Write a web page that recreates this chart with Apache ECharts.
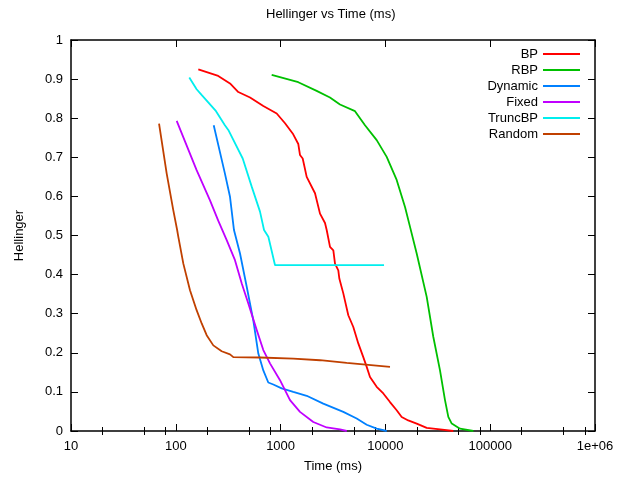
<!DOCTYPE html>
<html>
<head>
<meta charset="utf-8">
<title>Hellinger vs Time (ms)</title>
<script src="https://cdn.jsdelivr.net/npm/echarts@6.0.0/dist/echarts.min.js"></script>
<style>
  html, body { margin: 0; padding: 0; background: #ffffff; }
  #chart { width: 617px; height: 481px; }
</style>
</head>
<body>
<div id="chart"></div>
<script>
// Hellinger distance over wall-clock time for each inference method.
const seriesNames = ['BP', 'RBP', 'Dynamic', 'Fixed', 'TruncBP', 'Random'];

const bpTime = [164, 254, 329, 395, 511, 684, 918, 1102, 1304, 1475, 1531, 1625, 1774, 2130, 2377, 2653, 2753, 2961, 3186, 3304, 3553, 3634, 3966, 4426, 4940, 5513, 6152, 6630, 7129, 8256, 9552, 11060, 12810, 14300, 16520, 19890, 24780, 33190, 44460];
const bpHellinger = [0.925, 0.908, 0.889, 0.867, 0.853, 0.831, 0.812, 0.787, 0.761, 0.734, 0.706, 0.697, 0.650, 0.608, 0.556, 0.532, 0.514, 0.471, 0.462, 0.428, 0.411, 0.390, 0.352, 0.296, 0.266, 0.224, 0.189, 0.164, 0.138, 0.113, 0.096, 0.074, 0.053, 0.036, 0.027, 0.019, 0.008, 0.004, 0];

const rbpTime = [822, 1475, 2208, 2958, 3686, 5128, 6386, 8260, 10290, 12810, 15390, 17180, 19890, 24780, 28640, 33190, 37040, 39840, 42950, 51530, 69040];
const rbpHellinger = [0.911, 0.892, 0.870, 0.853, 0.835, 0.818, 0.782, 0.744, 0.701, 0.642, 0.573, 0.522, 0.454, 0.343, 0.241, 0.155, 0.079, 0.036, 0.019, 0.006, 0];

const dynamicTime = [230, 294, 329, 359, 410, 475, 549, 613, 684, 763, 852, 1024, 1321, 1774, 2553, 3966, 5321, 6630, 8260, 10290];
const dynamicHellinger = [0.782, 0.659, 0.599, 0.514, 0.454, 0.369, 0.283, 0.198, 0.155, 0.124, 0.119, 0.109, 0.100, 0.090, 0.070, 0.049, 0.032, 0.016, 0.006, 0];

const fixedTime = [102, 158, 212, 254, 306, 367, 426, 492, 592, 684, 792, 987, 1230, 1531, 2051, 2753, 3686, 4276];
const fixedHellinger = [0.793, 0.667, 0.590, 0.538, 0.488, 0.437, 0.377, 0.326, 0.258, 0.207, 0.173, 0.130, 0.079, 0.049, 0.023, 0.009, 0.004, 0];

const truncBpTime = [134.5, 158, 177, 242, 294, 317, 435, 530, 636, 695, 764, 885, 9706];
const truncBpHellinger = [0.904, 0.874, 0.859, 0.818, 0.782, 0.770, 0.697, 0.625, 0.561, 0.514, 0.497, 0.424, 0.424];

const randomTime = [69.2, 81.8, 94.6, 103, 105.6, 118, 136.6, 158, 176.6, 197, 228, 274, 329, 354, 636, 1321, 2377, 4276, 11060];
const randomHellinger = [0.786, 0.659, 0.565, 0.514, 0.497, 0.428, 0.360, 0.309, 0.275, 0.245, 0.219, 0.204, 0.196, 0.189, 0.188, 0.185, 0.181, 0.174, 0.164];

// Axis tick labels and the minor tick positions (2, 5 and 8 within each decade).
const xTickLabels = ['10', '100', '1000', '10000', '100000', '1e+06'];
const yTickLabels = ['0', '0.1', '0.2', '0.3', '0.4', '0.5', '0.6', '0.7', '0.8', '0.9', '1'];
const xMinorTicks = [20, 50, 80, 200, 500, 800, 2000, 5000, 8000, 20000, 50000, 80000, 200000, 500000, 800000];

const seriesTimes = [bpTime, rbpTime, dynamicTime, fixedTime, truncBpTime, randomTime];
const seriesValues = [bpHellinger, rbpHellinger, dynamicHellinger, fixedHellinger, truncBpHellinger, randomHellinger];

const palette = ['#ff0000', '#00c000', '#0080ff', '#c000ff', '#00eeee', '#c04000'];
const FONT = '"Liberation Sans", Arial, Helvetica, sans-serif';
const INK = '#000000';

// The minor ticks sit on a helper linear axis spanning log10 of the time range.
const minorTickExponents = xMinorTicks.map(v => Math.log10(v));

function pairUp(xs, ys) {
  return xs.map((x, i) => [x, ys[i]]);
}

const majorTick = { show: true, inside: true, length: 7, lineStyle: { color: INK, width: 1 } };
const minorTick = { show: true, inside: true, length: 4, customValues: minorTickExponents, lineStyle: { color: INK, width: 1 } };
const frameLine = { show: true, onZero: false, lineStyle: { color: INK, width: 1.5 } };

const option = {
  animation: false,
  backgroundColor: '#ffffff',
  title: {
    text: 'Hellinger vs Time (ms)',
    left: 266,
    top: 8,
    padding: 0,
    textStyle: { fontSize: 13, fontWeight: 'normal', color: INK, fontFamily: FONT }
  },
  legend: {
    orient: 'vertical',
    right: 37,
    top: 47,
    padding: 0,
    align: 'right',
    icon: 'rect',
    itemWidth: 37,
    itemHeight: 2,
    itemGap: 2,
    selectedMode: false,
    textStyle: { fontSize: 13, color: INK, fontFamily: FONT, lineHeight: 14 },
    data: seriesNames
  },
  grid: {
    left: 71,
    right: 22,
    top: 40,
    bottom: 50,
    containLabel: false,
    outerBoundsMode: 'none'
  },
  xAxis: [
    {
      type: 'log',
      logBase: 10,
      min: 10,
      max: 1000000,
      position: 'bottom',
      name: 'Time (ms)',
      nameLocation: 'middle',
      nameGap: 29,
      nameTextStyle: { fontSize: 13, color: INK, fontFamily: FONT },
      axisLine: frameLine,
      axisTick: majorTick,
      axisLabel: {
        margin: 9,
        fontSize: 13,
        color: INK,
        fontFamily: FONT,
        formatter: (value, index) => xTickLabels[index]
      },
      splitLine: { show: false }
    },
    {
      type: 'value',
      min: 1,
      max: 6,
      position: 'bottom',
      axisLine: { show: false },
      axisTick: minorTick,
      axisLabel: { show: false },
      splitLine: { show: false }
    },
    {
      type: 'log',
      logBase: 10,
      min: 10,
      max: 1000000,
      position: 'top',
      axisLine: frameLine,
      axisTick: majorTick,
      axisLabel: { show: false },
      splitLine: { show: false }
    },
    {
      type: 'value',
      min: 1,
      max: 6,
      position: 'top',
      axisLine: { show: false },
      axisTick: minorTick,
      axisLabel: { show: false },
      splitLine: { show: false }
    }
  ],
  yAxis: [
    {
      type: 'value',
      min: 0,
      max: 1,
      interval: 0.1,
      position: 'left',
      name: 'Hellinger',
      nameLocation: 'middle',
      nameGap: 45,
      nameTextStyle: { fontSize: 13, color: INK, fontFamily: FONT },
      axisLine: frameLine,
      axisTick: majorTick,
      axisLabel: {
        margin: 8,
        fontSize: 13,
        color: INK,
        fontFamily: FONT,
        formatter: (value, index) => yTickLabels[index]
      },
      splitLine: { show: false }
    },
    {
      type: 'value',
      min: 0,
      max: 1,
      interval: 0.1,
      position: 'right',
      axisLine: frameLine,
      axisTick: majorTick,
      axisLabel: { show: false },
      splitLine: { show: false }
    }
  ],
  series: seriesNames.map((name, i) => ({
    name: name,
    type: 'line',
    xAxisIndex: 0,
    yAxisIndex: 0,
    showSymbol: false,
    symbol: 'none',
    smooth: false,
    clip: true,
    color: palette[i],
    lineStyle: { color: palette[i], width: 1.8 },
    emphasis: { disabled: true },
    data: pairUp(seriesTimes[i], seriesValues[i])
  }))
};

const chart = echarts.init(document.getElementById('chart'), null, { renderer: 'canvas' });
chart.setOption(option);
</script>
</body>
</html>
